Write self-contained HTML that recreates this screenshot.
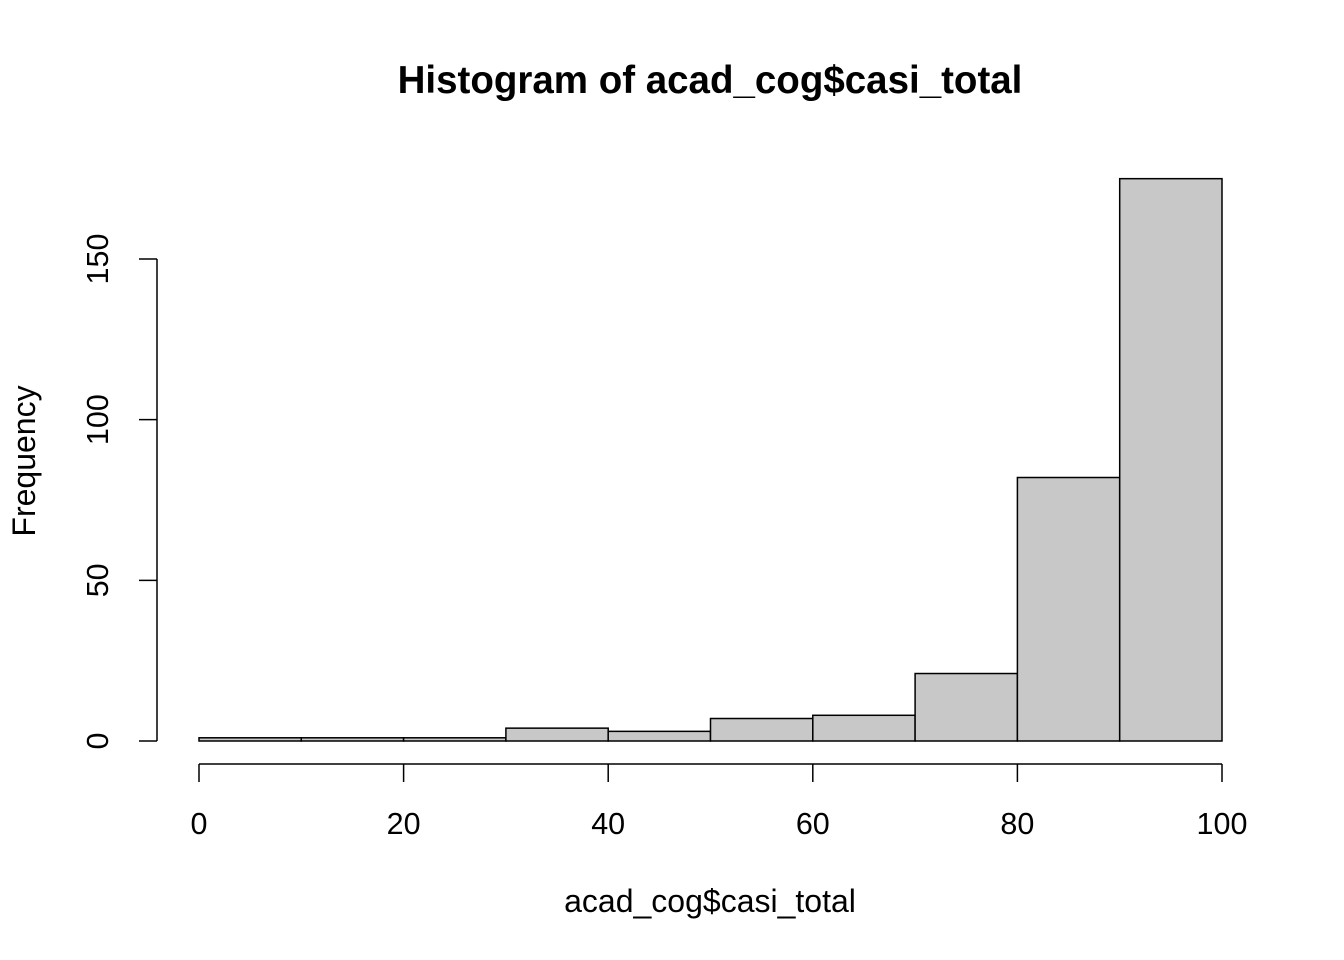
<!DOCTYPE html>
<html><head><meta charset="utf-8"><style>
html,body{margin:0;padding:0;background:#fff;}
svg{display:block;font-family:"Liberation Sans",Arial,sans-serif;}
</style></head><body>
<svg id="chart" width="1344" height="960">
<text x="710" y="93" text-anchor="middle" font-size="38.5" font-weight="bold">Histogram of acad_cog$casi_total</text>
<text x="710" y="912" text-anchor="middle" font-size="32">acad_cog$casi_total</text>
<text transform="translate(35,461) rotate(-90)" text-anchor="middle" font-size="32">Frequency</text>
<g id="bars"></g><g id="xaxis"></g><g id="yaxis"></g>
</svg>
<script>
const breaks = [0,10,20,30,40,50,60,70,80,90,100];
const counts = [1,1,1,4,3,7,8,21,82,175];
const xTicks = [0,20,40,60,80,100];
const yTicks = [0,50,100,150];
const NS="http://www.w3.org/2000/svg";
const xs=v=>199+v*(1222-199)/100;
const ys=v=>741-v*(741-259)/150;
function mk(t,a,p){const e=document.createElementNS(NS,t);for(const k in a)e.setAttribute(k,a[k]);p.appendChild(e);return e;}
const bars=document.getElementById('bars');
counts.forEach((c,i)=>{
 const r=mk('rect',{x:xs(breaks[i]),y:ys(c),width:xs(breaks[i+1])-xs(breaks[i]),height:ys(0)-ys(c),fill:'#c8c8c8',stroke:'#000','stroke-width':1.5},bars);
 
 
});
const xa=document.getElementById('xaxis');


mk('line',{x1:xs(xTicks[0]),x2:xs(xTicks[xTicks.length-1]),y1:764,y2:764,stroke:'#000','stroke-width':1.5},xa);
xTicks.forEach(t=>{
 mk('line',{x1:xs(t),x2:xs(t),y1:764,y2:782,stroke:'#000','stroke-width':1.5},xa);
 const tx=mk('text',{x:xs(t),y:834,'text-anchor':'middle','font-size':30.5},xa);tx.textContent=t;
 
 
});
const ya=document.getElementById('yaxis');


mk('line',{x1:157,x2:157,y1:ys(yTicks[0]),y2:ys(yTicks[yTicks.length-1]),stroke:'#000','stroke-width':1.5},ya);
yTicks.forEach(t=>{
 mk('line',{x1:139,x2:157,y1:ys(t),y2:ys(t),stroke:'#000','stroke-width':1.5},ya);
 const tx=mk('text',{transform:`translate(108,${ys(t)}) rotate(-90)`,'text-anchor':'middle','font-size':30.5},ya);tx.textContent=t;
 
 
});
</script>
</body></html>
